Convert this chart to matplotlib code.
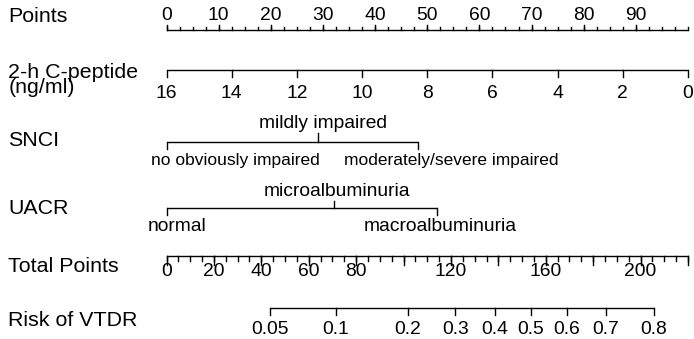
import numpy as np
import matplotlib.pyplot as plt

# nomogram scales
point_labels = [0, 10, 20, 30, 40, 50, 60, 70, 80, 90]
point_max = 100

cpeptide_values = [16, 14, 12, 10, 8, 6, 4, 2, 0]
cpeptide_points_per_unit = 6.25  # 16 ng/ml -> 0 points, 0 ng/ml -> 100 points

snci_levels = ['no obviously impaired', 'mildly impaired', 'moderately/severe impaired']
snci_points = [0, 29.1, 48.3]

uacr_levels = ['normal', 'microalbuminuria', 'macroalbuminuria']
uacr_points = [0, 32.2, 51.8]

total_labels = [0, 20, 40, 60, 80, 120, 160, 200]
total_max = 220

risk_values = [0.05, 0.1, 0.2, 0.3, 0.4, 0.5, 0.6, 0.7, 0.8]
risk_intercept = 153.6   # total points at logit = 0
risk_slope = 37.4        # total points per logit unit

plt.rcParams['font.family'] = ['Liberation Sans', 'DejaVu Sans']
VAR_FS = 15.4
AX_FS = 13.9
SMALL_FS = 12.5
LW = 1.0

fig = plt.figure(figsize=(6.94, 3.39), dpi=100)
ax = fig.add_axes([0, 0, 1, 1])
# x in "points" units, y in pixel rows
ax.set_xlim(-31.93, 101.15)
ax.set_ylim(339, 0)
ax.axis('off')


def tot2pts(t):
    return np.asarray(t, dtype=float) * point_max / total_max


def var_label(y, text, **kw):
    ax.text(0.012, y, text, transform=ax.get_yaxis_transform(),
            ha='left', va='center', fontsize=VAR_FS, **kw)


def hline(x0, x1, y):
    ax.plot([x0, x1], [y, y], color='black', lw=LW, solid_capstyle='butt')


def ticks(xs, y, length):
    for x in np.atleast_1d(xs):
        ax.plot([x, x], [y, y + length], color='black', lw=LW)


# Points
y = 30
var_label(17, 'Points')
hline(0, point_max, y)
ticks(np.arange(0, point_max + 0.1, 2.5), y, -3)
ticks(point_labels, y, -5)
for p in point_labels:
    ax.text(p, 15, str(p), ha='center', va='center', fontsize=AX_FS)

# 2-h C-peptide
y = 70
var_label(80, '2-h C-peptide\n(ng/ml)', linespacing=0.78)
cp_x = [(16 - c) * cpeptide_points_per_unit for c in cpeptide_values]
hline(min(cp_x), max(cp_x), y)
ticks(cp_x, y, 7)
for x, c in zip(cp_x, cpeptide_values):
    ax.text(x, 93, str(c), ha='center', va='center', fontsize=AX_FS)

# SNCI
y = 141.5
var_label(140, 'SNCI')
hline(snci_points[0], snci_points[-1], y)
ticks([snci_points[0], snci_points[2]], y, 7)
ticks([snci_points[1]], y, -8.5)
ax.text(snci_points[0] + 13.3, 160, snci_levels[0], ha='center', va='center', fontsize=SMALL_FS)
ax.text(snci_points[1] + 1.0, 124, snci_levels[1], ha='center', va='center', fontsize=AX_FS)
ax.text(snci_points[2] + 6.25, 160, snci_levels[2], ha='center', va='center', fontsize=SMALL_FS)

# UACR
y = 208.3
var_label(208, 'UACR')
hline(uacr_points[0], uacr_points[-1], y)
ticks([uacr_points[0], uacr_points[2]], y, 7)
ticks([uacr_points[1]], y, -7)
ax.text(uacr_points[0] - 3.6, 226.7, uacr_levels[0], ha='left', va='center', fontsize=AX_FS)
ax.text(uacr_points[1] + 0.5, 192, uacr_levels[1], ha='center', va='center', fontsize=AX_FS)
ax.text(uacr_points[2] + 0.7, 226.7, uacr_levels[2], ha='center', va='center', fontsize=AX_FS)

# Total Points
y = 255.7
var_label(266, 'Total Points')
hline(0, tot2pts(total_max), y)
ticks(tot2pts(np.arange(0, total_max + 0.1, 5)), y, 5)
ticks(tot2pts(np.arange(0, total_max + 0.1, 20)), y, 9)
for t in total_labels:
    ax.text(tot2pts(t), 272, str(t), ha='center', va='center', fontsize=AX_FS)

# Risk of VTDR
y = 308.4
var_label(320, 'Risk of VTDR')
r = np.array(risk_values)
risk_x = tot2pts(risk_intercept + risk_slope * np.log(r / (1 - r)))
hline(risk_x[0], risk_x[-1], y)
ticks(risk_x, y, 6.5)
for x, v in zip(risk_x, risk_values):
    ax.text(x, 329, f'{v:g}', ha='center', va='center', fontsize=AX_FS)

fig.savefig('out.png', dpi=100)
